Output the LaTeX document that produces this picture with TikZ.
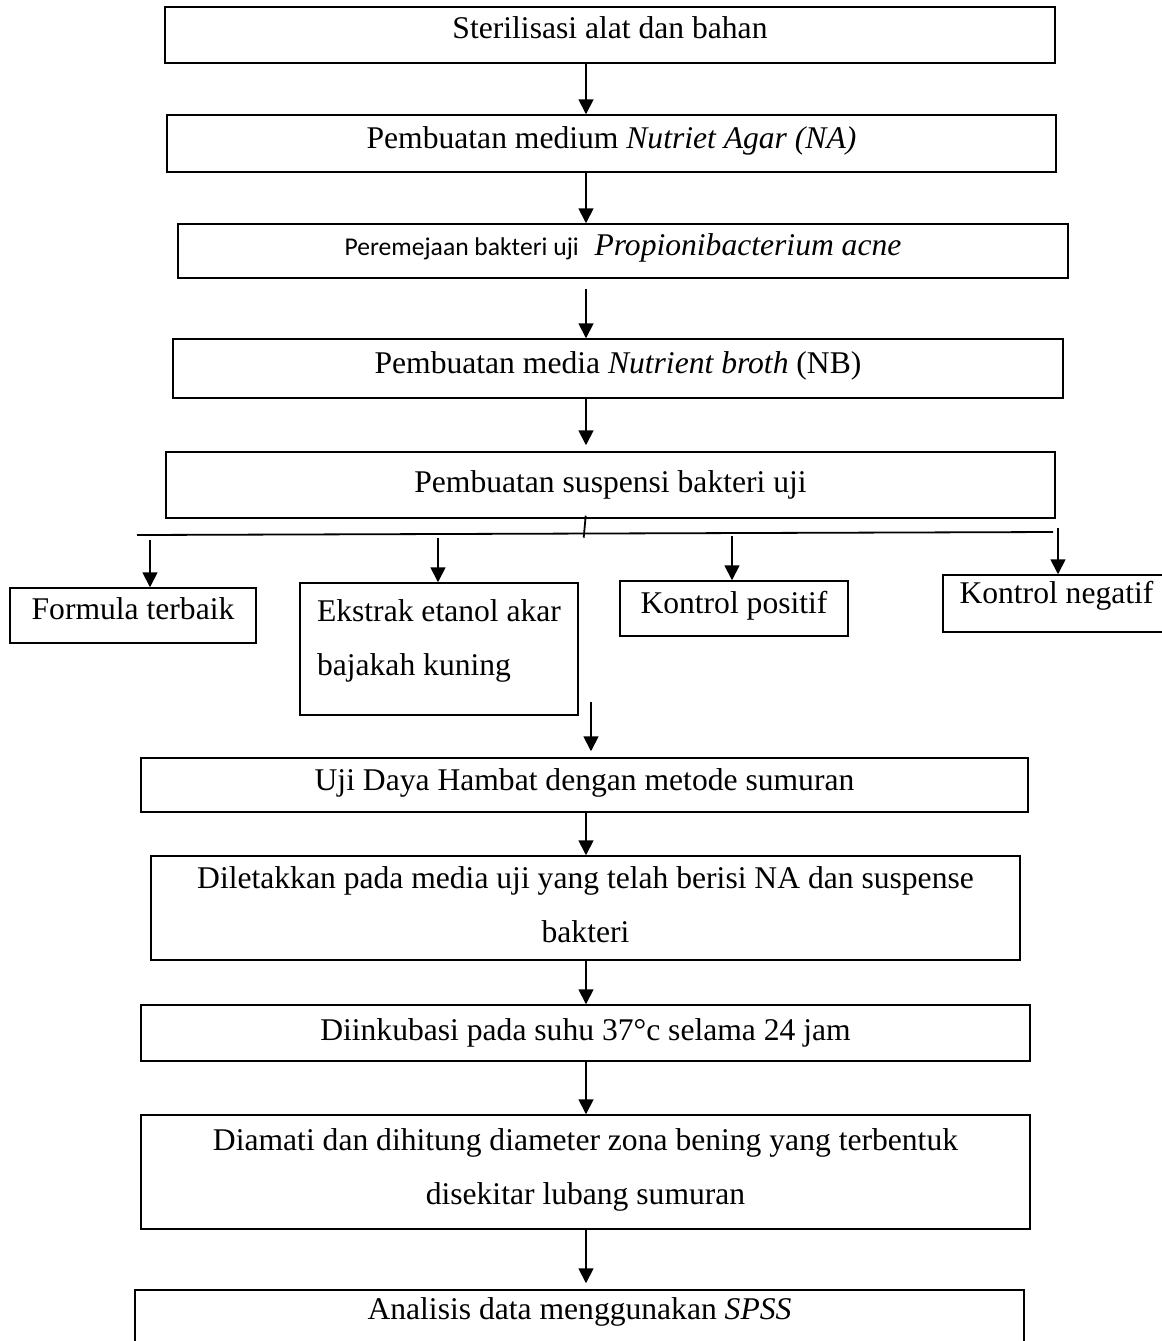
\documentclass[tikz,border=0pt]{standalone}
\usepackage{fontspec}
\setmainfont{Liberation Serif}
\newfontfamily\calfont{Carlito}
\usetikzlibrary{arrows.meta}

\begin{document}
\begin{tikzpicture}
[x=0.5pt, y=-0.5pt,
 every node/.style={inner sep=0pt, font=\fontsize{15.8}{27}\selectfont},
 box/.style={rectangle, draw=black, line width=0.75pt, align=center},
 arr/.style={line width=0.9pt, -{Triangle[length=7.5pt, width=7.5pt]}},
 branch/.style={line width=0.9pt}]
\useasboundingbox (0,0) rectangle (1162,1341);
\node (steril) [box, minimum width=445pt, minimum height=28pt, text depth=7pt] at (610,35) {Sterilisasi alat dan bahan};
\node (medium) [box, minimum width=444.5pt, minimum height=28.5pt, text depth=5.9pt] at (611.5,143.5) {Pembuatan medium \textit{Nutriet Agar (NA)}};
\node (remaja) [box, minimum width=445pt, minimum height=27pt, text depth=6.4pt] at (623,251) {{\calfont\fontsize{12.8}{27}\selectfont Peremejaan bakteri uji}\ \ \textit{Propionibacterium acne}};
\node (nb) [box, minimum width=445pt, minimum height=29.5pt, text depth=5.9pt] at (618,368.5) {Pembuatan media \textit{Nutrient broth} (NB)};
\node (suspensi) [box, minimum width=444.5pt, minimum height=33pt] at (610.5,485) {Pembuatan suspensi bakteri uji};
\node (formula) [box, minimum width=123pt, minimum height=27.5pt, text depth=6.9pt] at (133,615.5) {Formula terbaik};
\node (ekstrak) [box, align=left, minimum width=139pt, minimum height=66pt, text depth=11.4pt] at (439,649) {Ekstrak etanol akar\\bajakah kuning};
\node (positif) [box, minimum width=114pt, minimum height=27.5pt, text depth=5.9pt] at (734,608.5) {Kontrol positif};
\node (negatif) [box, minimum width=113.5pt, minimum height=28.5pt, text depth=11.4pt] at (1056.5,603.5) {Kontrol negatif};
\node (uji) [box, minimum width=443.5pt, minimum height=27pt, text depth=5.4pt] at (584.5,785) {Uji Daya Hambat dengan metode sumuran};
\node (letak) [box, minimum width=434.5pt, minimum height=52pt, text depth=3.4pt] at (585.5,908) {Diletakkan pada media uji yang telah berisi NA dan suspense\\bakteri};
\node (inkubasi) [box, minimum width=444.5pt, minimum height=28pt, text depth=3.4pt] at (585.5,1033) {Diinkubasi pada suhu 37°c selama 24 jam};
\node (amati) [box, minimum width=444.5pt, minimum height=57pt, text depth=5.4pt] at (585.5,1172) {Diamati dan dihitung diameter zona bening yang terbentuk\\disekitar lubang sumuran};
\node (analisis) [box, minimum width=444.5pt, minimum height=35pt, text depth=16pt] at (579.5,1325) {Analisis data menggunakan \textit{SPSS}};
\coordinate (ax) at (586,0);
\coordinate (ex) at (591,702);
\coordinate (bl) at (137,535);
\coordinate (br) at (1053,532);
\coordinate (tk) at (585.7,515.7);
\coordinate (t1) at (150,540);
\coordinate (t2) at (438,538);
\coordinate (t3) at (732,536);
\coordinate (t4) at (1058,528);
\draw [arr] (steril.south -| ax) -- (medium.north -| ax);
\draw [arr] (medium.south -| ax) -- (remaja.north -| ax);
\draw [arr, shorten <=5pt] (remaja.south -| ax) -- (nb.north -| ax);
\draw [arr] (nb.south -| ax) -- ([yshift=3pt]suspensi.north -| ax);
\draw [branch] (bl) -- (br);
\draw [branch] (tk) -- ++(-2,22);
\draw [arr] (t1) -- (t1 |- formula.north);
\draw [arr] (t2) -- (t2 |- ekstrak.north);
\draw [arr] (t3) -- (t3 |- positif.north);
\draw [arr] (t4) -- (t4 |- negatif.north);
\draw [arr] (ex) -- ([yshift=3pt]ex |- uji.north);
\draw [arr] (uji.south -| ax) -- (letak.north -| ax);
\draw [arr] (letak.south -| ax) -- (inkubasi.north -| ax);
\draw [arr] (inkubasi.south -| ax) -- (amati.north -| ax);
\draw [arr, shorten >=3pt] (amati.south -| ax) -- (analisis.north -| ax);
\end{tikzpicture}
\end{document}
